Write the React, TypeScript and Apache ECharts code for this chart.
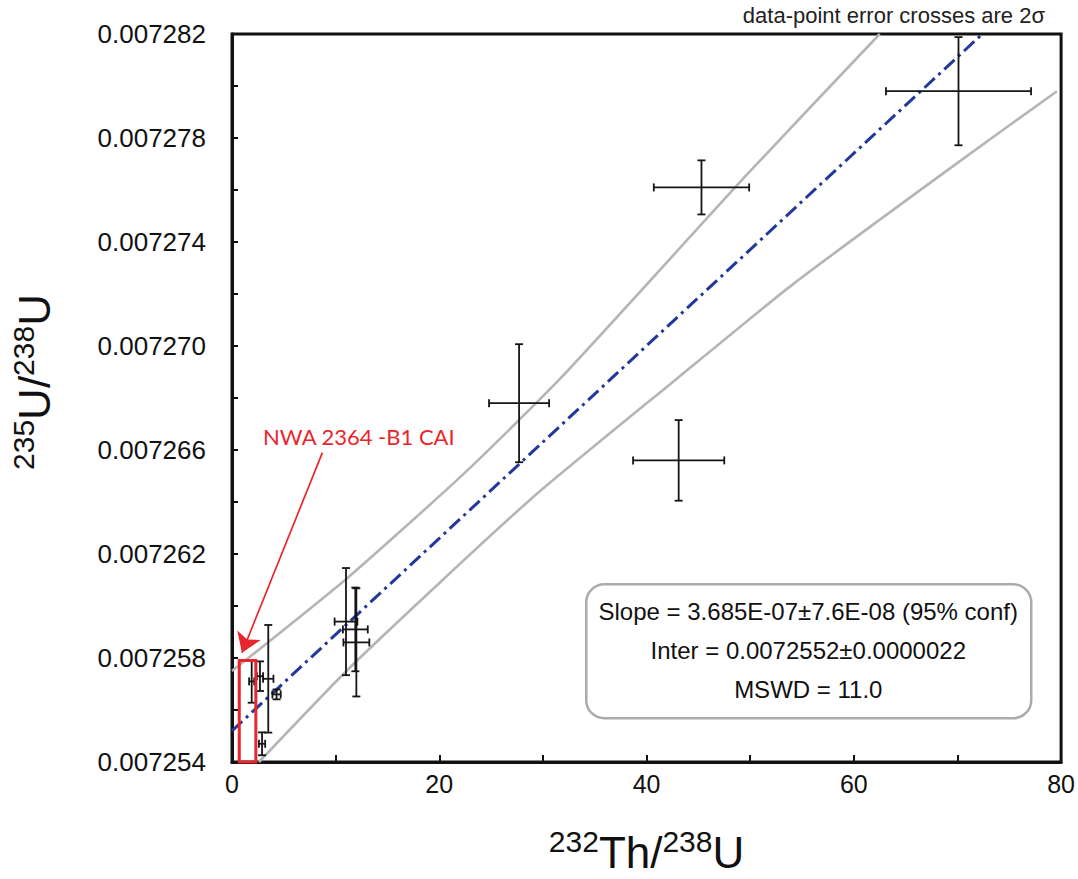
import React, { useEffect, useRef } from "react";
import * as echarts from "echarts";

// Data points (232Th/238U, 235U/238U) with 2-sigma errors
const pointX = [70.1, 45.3, 27.7, 43.1, 11.0, 11.9, 12.0, 1.9, 2.7, 3.5, 4.3, 2.9];
const pointY = [0.0072798, 0.0072761, 0.0072678, 0.0072656, 0.0072594, 0.0072591, 0.0072586, 0.0072571, 0.0072573, 0.0072572, 0.0072566, 0.0072547];
const errX = [7.0, 4.6, 2.9, 4.4, 1.1, 1.2, 1.25, 0.25, 0.3, 0.5, 0.4, 0.3];
const errY = [0.00000208, 0.00000104, 0.00000227, 0.00000155, 0.00000206, 0.00000161, 0.00000208, 0.00000082, 0.00000057, 0.00000207, 0.00000019, 0.00000044];

// Regression line and confidence envelope
const fitX = [0, 72.4];
const fitY = [0.0072552, 0.007282];
const upperX = [0, 11.2, 22.4, 31.8, 49.7, 62.5];
const upperY = [0.0072575, 0.0072611, 0.0072651, 0.0072688, 0.0072766, 0.007282];
const lowerX = [2.6, 11.8, 28.8, 43.1, 54.2, 70.2, 79.6];
const lowerY = [0.007254, 0.0072578, 0.0072641, 0.0072688, 0.0072724, 0.0072771, 0.0072798];

// Highlighted CAI region and arrow
const boxRange = [0.7, 2.3, 0.007254, 0.0072579];
const arrowFrom = [8.72, 0.0072659];
const arrowTo = [0.96, 0.0072582];

const statLines = [
  "Slope = 3.685E-07±7.6E-08 (95% conf)",
  "Inter = 0.0072552±0.0000022",
  "MSWD = 11.0",
];

const Y_MIN = 0.007254;
const Y_MAX = 0.007282;
const Y_STEP = 0.000002;

export default function App() {
  const ref = useRef<HTMLDivElement>(null);
  useEffect(() => {
    if (!ref.current) return;
    const chart = echarts.init(ref.current, null, { renderer: "svg" });
    const font = "Liberation Sans, Arial, sans-serif";
    const red = "#e8262d";
    const rich = {
      s: { fontSize: 30, fontFamily: font, color: "#111", verticalAlign: "top", lineHeight: 48 },
      m: { fontSize: 44, fontFamily: font, color: "#111", verticalAlign: "bottom", lineHeight: 48 },
    };
    const option: any = {
      animation: false,
      backgroundColor: "#fff",
      grid: {
        left: 228,
        right: 16,
        top: 34,
        bottom: 105,
        show: true,
        borderColor: "#111",
        borderWidth: 3,
        backgroundColor: "transparent",
      },
      xAxis: {
        type: "value",
        min: 0,
        max: 80,
        interval: 10,
        name: "{s|232}{m|Th/}{s|238}{m|U}",
        nameLocation: "middle",
        nameGap: 64,
        nameTextStyle: { rich },
        axisLine: { show: true, lineStyle: { color: "#111", width: 3 } },
        axisTick: { show: true, inside: true, length: 7, lineStyle: { color: "#111", width: 2 } },
        axisLabel: {
          margin: 9,
          fontSize: 25,
          fontFamily: font,
          color: "#111",
          formatter: (v: number) => (Math.round(v) % 20 === 0 ? String(Math.round(v)) : ""),
        },
        splitLine: { show: false },
      },
      yAxis: {
        type: "value",
        min: Y_MIN,
        max: Y_MAX,
        interval: Y_STEP,
        name: "{s|235}{m|U/}{s|238}{m|U}",
        nameLocation: "middle",
        nameRotate: 90,
        nameGap: 176,
        nameTextStyle: { rich, padding: [0, 0, 0, 32] },
        axisLine: { show: true, lineStyle: { color: "#111", width: 3 } },
        axisTick: { show: true, inside: true, length: 6, lineStyle: { color: "#111", width: 2 } },
        axisLabel: {
          margin: 26,
          fontSize: 26,
          fontFamily: font,
          color: "#111",
          formatter: (v: number) => {
            const k = Math.round((v - Y_MIN) / Y_STEP);
            return k % 2 === 0 ? (Y_MIN + k * Y_STEP).toFixed(6) : "";
          },
        },
        splitLine: { show: false },
      },
      series: [
        {
          type: "line",
          data: upperX.map((x, i) => [x, upperY[i]]),
          smooth: 0.2,
          showSymbol: false,
          symbol: "none",
          lineStyle: { color: "#b5b5b5", width: 2.6 },
          clip: true,
          z: 2,
        },
        {
          type: "line",
          data: lowerX.map((x, i) => [x, lowerY[i]]),
          smooth: 0.2,
          showSymbol: false,
          symbol: "none",
          lineStyle: { color: "#b5b5b5", width: 2.6 },
          clip: true,
          z: 2,
        },
        {
          type: "line",
          data: fitX.map((x, i) => [x, fitY[i]]),
          showSymbol: false,
          symbol: "none",
          lineStyle: { color: "#22389a", width: 3, type: [14, 5, 3, 5] },
          clip: true,
          z: 3,
          markLine: {
            silent: true,
            animation: false,
            symbol: ["none", "arrow"],
            symbolSize: 19,
            label: { show: false },
            lineStyle: { color: red, width: 1.7, type: "solid" },
            data: [[{ coord: arrowFrom }, { coord: arrowTo }]],
          },
        },
        {
          type: "custom",
          clip: true,
          z: 4,
          encode: { x: 0, y: 1 },
          data: pointX.map((x, i) => [x, pointY[i], errX[i], errY[i]]),
          renderItem: (params: any, api: any) => {
            const x = api.value(0);
            const y = api.value(1);
            const ex = api.value(2);
            const ey = api.value(3);
            const l = api.coord([x - ex, y]);
            const r = api.coord([x + ex, y]);
            const t = api.coord([x, y + ey]);
            const b = api.coord([x, y - ey]);
            const cap = 4;
            const style = { stroke: "#151515", lineWidth: 1.8 };
            const ln = (x1: number, y1: number, x2: number, y2: number) => ({
              type: "line",
              shape: { x1, y1, x2, y2 },
              style,
            });
            return {
              type: "group",
              children: [
                ln(l[0], l[1], r[0], r[1]),
                ln(t[0], t[1], b[0], b[1]),
                ln(l[0], l[1] - cap, l[0], l[1] + cap),
                ln(r[0], r[1] - cap, r[0], r[1] + cap),
                ln(t[0] - cap, t[1], t[0] + cap, t[1]),
                ln(b[0] - cap, b[1], b[0] + cap, b[1]),
              ],
            };
          },
        },
        {
          type: "custom",
          z: 5,
          encode: { x: [0, 1], y: [2, 3] },
          data: [boxRange],
          renderItem: (params: any, api: any) => {
            const p1 = api.coord([api.value(0), api.value(3)]);
            const p2 = api.coord([api.value(1), api.value(2)]);
            return {
              type: "rect",
              shape: { x: p1[0], y: p1[1], width: p2[0] - p1[0], height: p2[1] - p1[1] },
              style: { stroke: red, lineWidth: 3, fill: "none" },
            };
          },
        },
      ],
      graphic: [
        {
          type: "text",
          right: 33,
          top: 4,
          style: {
            text: "data-point error crosses are 2σ",
            fontSize: 22,
            fontFamily: font,
            fill: "#222",
          },
        },
        {
          type: "text",
          left: 263,
          top: 425,
          style: {
            text: "NWA 2364 -B1 CAI",
            fontSize: 22,
            fontFamily: "Lato, sans-serif",
            fill: red,
          },
        },
        {
          type: "group",
          left: 585,
          top: 583,
          children: [
            {
              type: "rect",
              shape: { x: 0, y: 0, width: 445, height: 134, r: 18 },
              style: { fill: "#fff", stroke: "#ababab", lineWidth: 2.5 },
            },
            ...statLines.map((t, i) => ({
              type: "text",
              x: 222,
              y: 27 + i * 39,
              style: {
                text: t,
                fontSize: 24,
                fontFamily: font,
                fill: "#111",
                align: "center",
                verticalAlign: "middle",
              },
            })),
          ],
        },
      ],
    };
    chart.setOption(option);
    return () => chart.dispose();
  }, []);
  return (
    <div
      ref={ref}
      style={{ position: "fixed", left: 0, top: 0, width: 1078, height: 879, background: "#fff" }}
    />
  );
}
